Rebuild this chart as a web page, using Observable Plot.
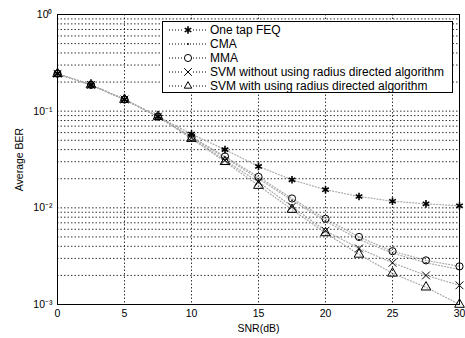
<!DOCTYPE html>
<html>
<head>
<meta charset="utf-8">
<script src="https://cdn.jsdelivr.net/npm/d3@7"></script>
<script src="https://cdn.jsdelivr.net/npm/@observablehq/plot@0.6"></script>
<style>
  body { margin: 0; background: #fff; font-family: "Liberation Sans", Arial, sans-serif; }
  #wrap { position: relative; width: 465px; height: 338px; }
  #legend { position: absolute; left: 162px; top: 21px; width: 291px; height: 72px;
    border: 1px solid #000; background: #fff; box-sizing: border-box; padding-top: 1px; }
  .row { height: 14px; display: flex; align-items: center; font-size: 12px; color: #000; white-space: nowrap; }
  .row svg { flex: none; }
</style>
</head>
<body>
<div id="wrap"></div>
<script>
const snr = [0, 2.5, 5, 7.5, 10, 12.5, 15, 17.5, 20, 22.5, 25, 27.5, 30];
const feq = [0.244, 0.187, 0.132, 0.088, 0.058, 0.040, 0.0268, 0.0195, 0.0154, 0.0131, 0.0117, 0.0110, 0.0105];
const cma = [0.244, 0.187, 0.132, 0.088, 0.054, 0.033, 0.0200, 0.0120, 0.0073, 0.0047, 0.0034, 0.0027, 0.0023];
const mma = [0.244, 0.187, 0.132, 0.088, 0.054, 0.034, 0.0209, 0.0125, 0.0077, 0.0050, 0.00356, 0.00286, 0.00248];
const svmNo = [0.244, 0.187, 0.132, 0.088, 0.053, 0.031, 0.0185, 0.0103, 0.0058, 0.0038, 0.0027, 0.0020, 0.00158];
const svmRd = [0.244, 0.187, 0.132, 0.088, 0.052, 0.030, 0.0170, 0.0096, 0.0055, 0.0033, 0.0021, 0.00151, 0.0010];

const seriesNames = ["One tap FEQ", "CMA", "MMA", "SVM without using radius directed algorithm", "SVM with using radius directed algorithm"];
const seriesValues = [feq, cma, mma, svmNo, svmRd];
const seriesSymbols = ["asterisk", "dot", "circle", "times", "triangle"];

const xTicks = [0, 5, 10, 15, 20, 25, 30];
const xGrid = [5, 10, 15, 20, 25];
const yTicks = [1e-3, 1e-2, 1e-1, 1];
const yGrid = [];
for (let e = -3; e < 0; e++) for (let m = 1; m < 10; m++) yGrid.push(m * Math.pow(10, e));

const sup = {"0":"⁰","1":"¹","2":"²","3":"³","-":"⁻"};
const fmtY = d => "10" + String(Math.round(Math.log10(d))).split("").map(c => sup[c]).join("");

const rows = [];
seriesNames.forEach((name, i) => snr.forEach((x, j) => rows.push({series: name, symbol: seriesSymbols[i], x, y: seriesValues[i][j]})));

const marks = [
  Plot.gridY(yGrid, {stroke: "#000", strokeOpacity: 1, strokeWidth: 0.8, strokeDasharray: "1.5,2"}),
  Plot.gridX(xGrid, {stroke: "#000", strokeOpacity: 1, strokeWidth: 0.8, strokeDasharray: "1.5,2"}),
  Plot.line(rows, {x: "x", y: "y", z: "series", stroke: "#aaa", strokeWidth: 1.2, strokeDasharray: "1,2"}),
];
seriesNames.forEach((name, i) => {
  const data = rows.filter(r => r.series === name);
  if (seriesSymbols[i] === "dot") {
    marks.push(Plot.dot(data, {x: "x", y: "y", r: 0.8, fill: "#000"}));
  } else {
    marks.push(Plot.dot(data, {x: "x", y: "y", symbol: () => seriesSymbols[i], r: 3.6, stroke: "#000", strokeWidth: seriesSymbols[i] === "asterisk" ? 1.6 : 1, fill: "none"}));
  }
});
marks.push(
  Plot.frame({stroke: "#000", strokeWidth: 1}),
  Plot.axisX({ticks: xTicks, tickSize: 0, tickPadding: 5, label: "SNR(dB)", labelAnchor: "center", labelArrow: "none", labelOffset: 27, fontSize: 10.5}),
  Plot.axisY({ticks: yTicks, tickSize: 0, tickPadding: 5, tickFormat: fmtY, label: "Average BER", labelAnchor: "center", labelArrow: "none", labelOffset: 42, fontSize: 10.5})
);

const chart = Plot.plot({
  width: 465, height: 338,
  marginLeft: 57, marginRight: 6, marginTop: 14, marginBottom: 34,
  style: {fontFamily: "Liberation Sans, Arial, sans-serif", fontSize: "10.5px", color: "#000", background: "#fff"},
  x: {domain: [0, 30]},
  y: {type: "log", domain: [1e-3, 1]},
  marks
});
const wrap = document.getElementById("wrap");
wrap.appendChild(chart);

// Legend (MATLAB-style box)
const legend = document.createElement("div");
legend.id = "legend";
const symMap = {asterisk: d3.symbolAsterisk, circle: d3.symbolCircle, times: d3.symbolTimes, triangle: d3.symbolTriangle2};
seriesNames.forEach((name, i) => {
  const row = document.createElement("div");
  row.className = "row";
  const s = d3.create("svg").attr("width", 47).attr("height", 14);
  s.append("line").attr("x1", 6).attr("x2", 44).attr("y1", 7).attr("y2", 7)
    .attr("stroke", "#000").attr("stroke-dasharray", "1,2");
  if (seriesSymbols[i] === "dot") {
    s.append("circle").attr("cx", 25).attr("cy", 7).attr("r", 0.9).attr("fill", "#000");
  } else {
    s.append("rect").attr("x", 20).attr("y", 1).attr("width", 10).attr("height", 12).attr("fill", "#fff");
    s.append("path").attr("transform", "translate(25,7)")
      .attr("d", d3.symbol(symMap[seriesSymbols[i]], 40)())
      .attr("fill", "none").attr("stroke", "#000").attr("stroke-width", seriesSymbols[i] === "asterisk" ? 1.6 : 1);
  }
  row.appendChild(s.node());
  const t = document.createElement("span");
  t.textContent = name;
  row.appendChild(t);
  legend.appendChild(row);
});
wrap.appendChild(legend);
</script>
</body>
</html>
